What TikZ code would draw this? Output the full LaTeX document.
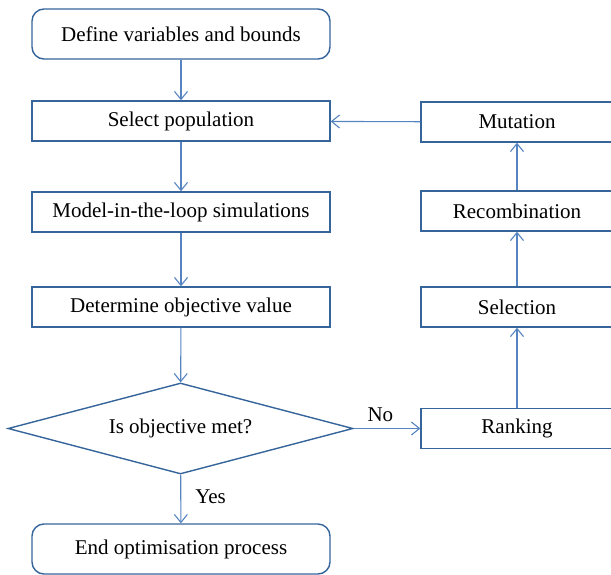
\documentclass[tikz,border=0pt]{standalone}
\usepackage{fontspec}
\setmainfont{Liberation Serif}
\usepackage{tikz}
\usetikzlibrary{arrows.meta,positioning,shapes.geometric}
\definecolor{edge}{HTML}{35659A}
\definecolor{flow}{HTML}{5684C0}
\tikzset{
  box/.style={draw=edge,line width=0.7pt,fill=white,align=center,
    font=\fontsize{10.5}{12.6}\selectfont,inner sep=0pt},
  leftbox/.style={box,minimum width=149pt,minimum height=20pt},
  termbox/.style={leftbox,rounded corners=6pt,minimum height=25pt},
  rightbox/.style={box,minimum width=96pt,minimum height=20pt},
  decide/.style={box,diamond,aspect=3.8,minimum width=172.5pt,minimum height=45.5pt},
  arr/.style={-{Straight Barb[length=4pt,width=6.5pt]},line width=0.55pt,draw=flow},
  note/.style={font=\fontsize{10.5}{12.6}\selectfont,inner sep=0pt},
}
\begin{document}
\begin{tikzpicture}[x=0.5pt,y=-0.5pt]
  \useasboundingbox (0,0) rectangle (611,574);
  % main column
  \node[termbox] (define) at (181,34) {Define variables and bounds};
  \node[leftbox] (select) at (181,121) {Select population};
  \node[leftbox] (mil) at (181,212) {Model-in-the-loop simulations};
  \node[leftbox] (objval) at (181,307) {Determine objective value};
  \node[decide] (met) at (180.5,428.5) {Is objective met?};
  \node[termbox] (finish) at (181,549) {End optimisation process};
  % loop column
  \node[rightbox] (ranking) at (517,428.5) {Ranking};
  \node[rightbox] (selection) at (517,307) {Selection};
  \node[rightbox] (recomb) at (517,211) {Recombination};
  \node[rightbox] (mutation) at (517,122) {Mutation};
  \draw[arr] (define) -- (select);
  \draw[arr] (select) -- (mil);
  \draw[arr] (mil) -- (objval);
  \draw[arr] (objval) -- (met);
  \draw[arr] (met) -- node[note,right=7pt,pos=.45]{Yes} (finish);
  \draw[arr] (met) -- node[note,above=3pt,pos=.4]{No} (ranking);
  \draw[arr] (ranking) -- (selection);
  \draw[arr] (selection) -- (recomb);
  \draw[arr] (recomb) -- (mutation);
  \draw[arr] (mutation) -- (select);
\end{tikzpicture}
\end{document}
